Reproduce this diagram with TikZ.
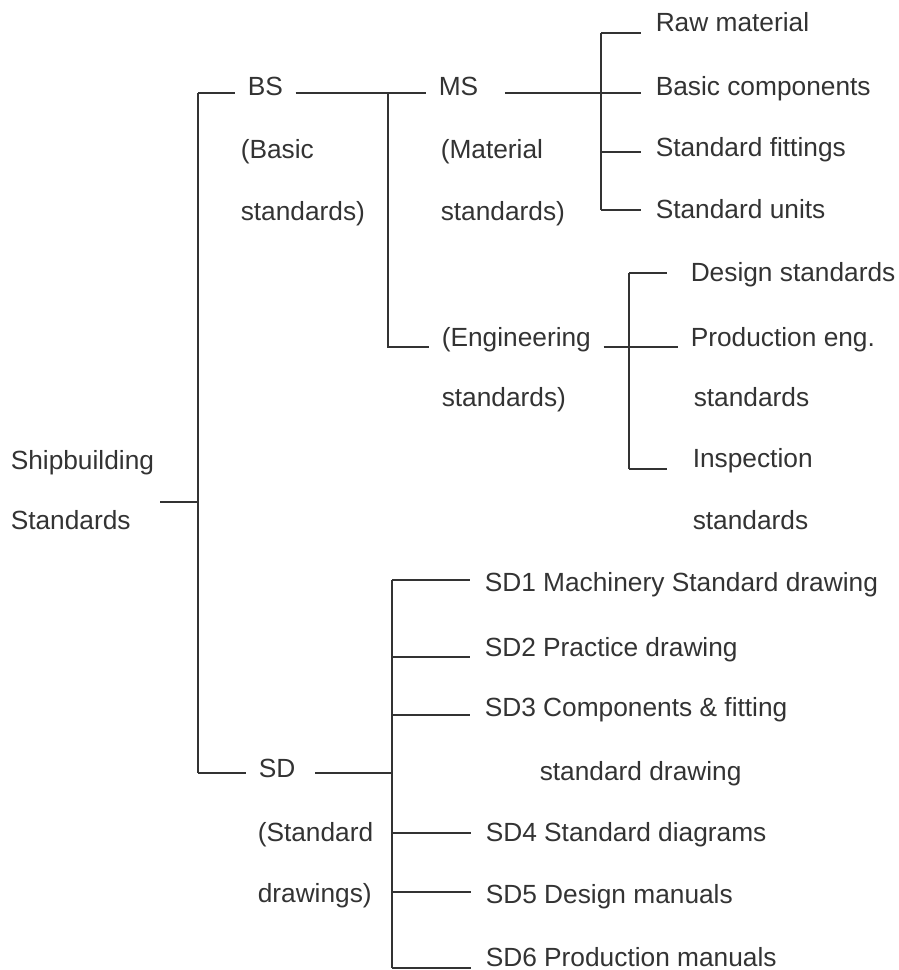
\documentclass[tikz,border=0pt]{standalone}
\usepackage{fontspec}
\setmainfont{Liberation Sans}
\definecolor{ink}{HTML}{333333}
\tikzset{
  txt/.style={anchor=west, inner ysep=0pt, inner xsep=0pt, text height=18.8pt, text depth=0pt,
    text=ink, font=\fontsize{26.3}{26.3}\selectfont},
  head/.style={txt, inner xsep=12pt},
  leaf/.style={txt, inner xsep=14pt}
}
\begin{document}
\begin{tikzpicture}[x=1pt, y=-1pt, line width=1.5pt, draw=ink]
    \useasboundingbox (0,0) rectangle (899,970);

    % root
    \node[txt] (ship) at (10,460) {Shipbuilding};
    \node[txt] (shipb) at (10,520) {Standards};
    \coordinate (rtop) at (198,93);
    \coordinate (rmid) at (198,502);
    \coordinate (rbot) at (198,773);

    % basic standards
    \node[head] (bs) at (235,86) {BS};
    \node[txt] (bsa) at (240,149) {(Basic};
    \node[txt] (bsb) at (240,211) {standards)};
    \coordinate (bstop) at (388,93);
    \coordinate (bsbot) at (388,347);

    \node[head] (ms) at (426,86) {MS};
    \node[txt] (msa) at (440,149) {(Material};
    \node[txt] (msb) at (440,211) {standards)};
    \coordinate (mstop) at (601,33);
    \coordinate (msmid) at (601,152);
    \coordinate (msbot) at (601,210);

    \node[leaf] (raw) at (641,22) {Raw material};
    \node[leaf] (basic) at (641,86) {Basic components};
    \node[leaf] (fit) at (641,147) {Standard fittings};
    \node[leaf] (units) at (641,209) {Standard units};

    \node[head] (eng) at (429,337) {(Engineering};
    \node[txt] (engb) at (441,397) {standards)};
    \coordinate (engtop) at (629,273);
    \coordinate (engbot) at (629,469);

    \node[leaf, inner xsep=23pt] (design) at (667,272) {Design standards};
    \node[leaf, inner xsep=12pt] (prod) at (678,337) {Production eng.};
    \node[txt] (proda) at (693,397) {standards};
    \node[leaf, inner xsep=25pt] (insp) at (667,458) {Inspection};
    \node[txt] (inspa) at (692,520) {standards};

    % standard drawings
    \node[head] (sd) at (246,768) {SD};
    \node[txt] (sda) at (257,832) {(Standard};
    \node[txt] (sdb) at (257,893) {drawings)};
    \coordinate (sdtop) at (392,580);
    \coordinate (sdbot) at (392,968);

    \node[leaf] (sd1) at (470,582) {SD1 Machinery Standard drawing};
    \node[leaf] (sd2) at (470,647) {SD2 Practice drawing};
    \node[leaf] (sd3) at (470,707) {SD3 Components \& fitting};
    \node[txt] (sd3b) at (539,771) {standard drawing};
    \node[leaf] (sd4) at (471,832) {SD4 Standard diagrams};
    \node[leaf] (sd5) at (471,894) {SD5 Design manuals};
    \node[leaf] (sd6) at (471,957) {SD6 Production manuals};

    % lines
    \draw (rtop) -- (rbot);
    \draw (rmid) -- ([xshift=5pt]ship.east |- rmid);
    \draw (rtop) -- (bs.west |- rtop);
    \draw (rbot) -- (sd.west |- rbot);

    \draw (bs.east |- rtop) -- (ms.west |- rtop);
    \draw (bstop) -- (bsbot) -- (eng.west |- bsbot);

    \draw ([xshift=14pt]ms.east |- rtop) -- (basic.west |- rtop);
    \draw (mstop) -- (msbot);
    \draw (mstop) -- (raw.west |- mstop);
    \draw (msmid) -- (fit.west |- msmid);
    \draw (msbot) -- (units.west |- msbot);

    \draw (eng.east |- bsbot) -- (prod.west |- bsbot);
    \draw (engtop) -- (engbot);
    \draw (engtop) -- (design.west |- engtop);
    \draw (engbot) -- (insp.west |- engbot);

    \draw ([xshift=7pt]sd.east |- rbot) -- (sdtop |- rbot);
    \draw (sdtop) -- (sdbot);
    \foreach \n/\y in {sd1/580, sd2/657, sd3/715, sd4/833, sd5/892, sd6/968}
      \draw (sdtop |- 0,\y) -- (\n.west |- 0,\y);
\end{tikzpicture}
\end{document}
